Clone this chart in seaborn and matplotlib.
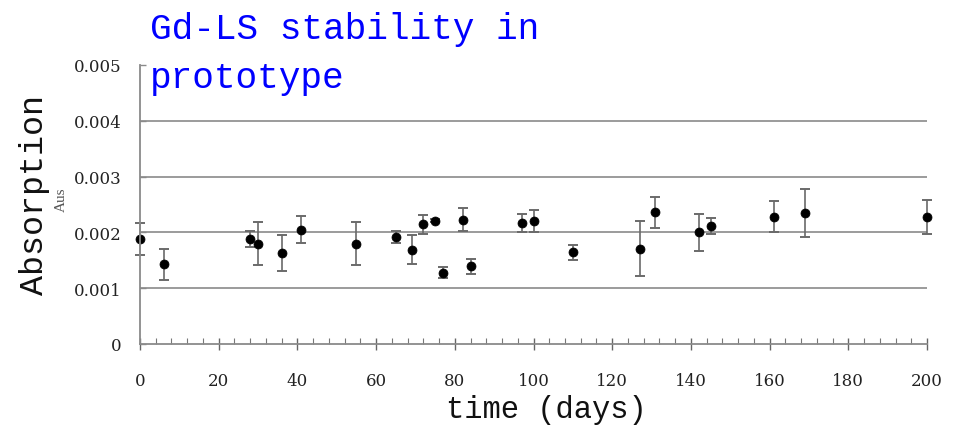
import matplotlib
matplotlib.use("Agg")
import matplotlib.pyplot as plt
from matplotlib.ticker import MultipleLocator, FixedLocator
import seaborn as sns
import pandas as pd

# Gd-LS absorption measured in the prototype detector over time
days = [0, 6, 28, 30, 36, 41, 55, 65, 69, 72, 75, 77, 82, 84, 97, 100,
        110, 127, 131, 142, 145, 161, 169, 200]
absorption = [0.00188, 0.00143, 0.00188, 0.00180, 0.00163, 0.00205, 0.00180,
              0.00192, 0.00169, 0.00215, 0.00221, 0.00128, 0.00223, 0.00139,
              0.00217, 0.00220, 0.00164, 0.00171, 0.00236, 0.00200, 0.00212,
              0.00228, 0.00234, 0.00228]
abs_err = [0.00029, 0.00028, 0.00015, 0.00038, 0.00033, 0.00024, 0.00038,
           0.00011, 0.00026, 0.00017, 0.00003, 0.00010, 0.00021, 0.00013,
           0.00016, 0.00020, 0.00013, 0.00050, 0.00028, 0.00033, 0.00014,
           0.00028, 0.00043, 0.00030]
x_ticks = [0, 20, 40, 60, 80, 100, 120, 140, 160, 180, 200]
y_ticks = [0, 0.001, 0.002, 0.003, 0.004, 0.005]
y_tick_labels = ["0", "0.001", "0.002", "0.003", "0.004", "0.005"]

df = pd.DataFrame({"day": days, "absorption": absorption, "err": abs_err})

sns.set_style("white")
plt.rcParams["font.family"] = ["DejaVu Serif"]

fig = plt.figure(figsize=(9.57, 4.27), dpi=100)
ax = fig.add_axes([140 / 957, 1 - 345 / 427, (927 - 140) / 957, (345 - 66) / 427])

# horizontal reference lines
for v in y_ticks[1:-1]:
    ax.axhline(v, color="#8a8a8a", lw=1.2, zorder=1)

ax.errorbar(df["day"], df["absorption"], yerr=df["err"], fmt="none",
            ecolor="#6a6a6a", elinewidth=1.2, capsize=3.5, capthick=1.4,
            zorder=2, clip_on=False)
sns.scatterplot(data=df, x="day", y="absorption", ax=ax, color="black",
                edgecolor="black", s=42, zorder=3, clip_on=False, legend=False)

ax.set_xlim(0, 200)
ax.set_ylim(0, 0.005)
ax.xaxis.set_major_locator(FixedLocator(x_ticks))
ax.xaxis.set_minor_locator(MultipleLocator(4))
ax.yaxis.set_major_locator(FixedLocator(y_ticks))
ax.set_xticklabels([str(t) for t in x_ticks])
ax.set_yticklabels(y_tick_labels)

for side in ["top", "right"]:
    ax.spines[side].set_visible(False)
for side in ["left", "bottom"]:
    ax.spines[side].set_color("#8a8a8a")
    ax.spines[side].set_linewidth(1.3)
    ax.spines[side].set_zorder(4)

ax.tick_params(axis="x", which="both", bottom=True)
ax.tick_params(axis="y", which="both", left=True)
ax.tick_params(axis="x", which="major", direction="inout", length=9,
               width=1.0, color="#666666", pad=16, labelsize=12,
               labelcolor="#222222")
ax.tick_params(axis="x", which="minor", direction="in", length=4,
               width=0.8, color="#777777")
ax.tick_params(axis="y", which="major", direction="in", length=4,
               width=1.0, color="#8a8a8a", pad=13, labelsize=12,
               labelcolor="#222222")

ax.set_xlabel("")
ax.set_ylabel("")

mono = ["Liberation Mono", "DejaVu Sans Mono"]
fig.text(150 / 957, 1 - 12 / 427, "Gd-LS stability in\nprototype",
         color="#0000ff", fontsize=26, family=mono, ha="left", va="top",
         linespacing=1.5)
fig.text(546 / 957, 1 - 410 / 427, "time (days)", color="#111111",
         fontsize=22, family=mono, ha="center", va="center")
fig.text(35 / 957, 1 - 195 / 427, "Absorption", color="#111111",
         fontsize=24, family=mono, rotation=90, ha="center", va="center")
fig.text(61 / 957, 1 - 200 / 427, "Aus", color="#555555", fontsize=11,
         family=["Liberation Serif"], rotation=90, ha="center", va="center")

fig.savefig("out.png", dpi=100)
